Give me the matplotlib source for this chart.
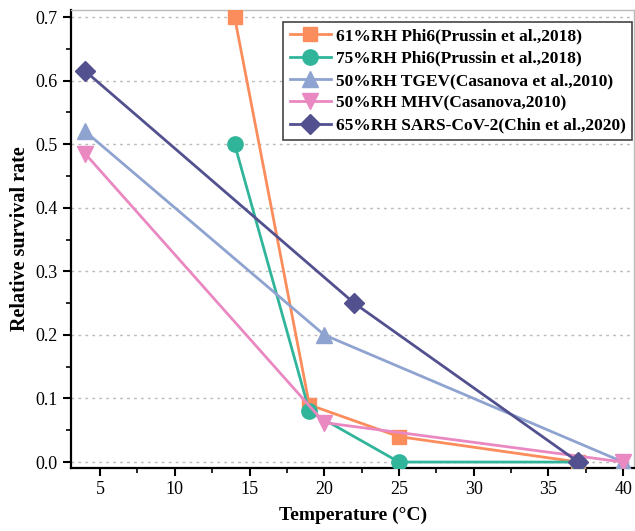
import matplotlib.pyplot as plt
from matplotlib.ticker import MultipleLocator

plt.rcParams['font.family'] = ['Liberation Serif', 'DejaVu Serif']

# data
phi6_61_x = [14, 19, 25, 37]
phi6_61_y = [0.70, 0.09, 0.04, 0.0]
phi6_75_x = [14, 19, 25, 37]
phi6_75_y = [0.50, 0.08, 0.0, 0.0]
tgev_x = [4, 20, 40]
tgev_y = [0.52, 0.20, 0.0]
mhv_x = [4, 20, 40]
mhv_y = [0.485, 0.062, 0.0]
sars_x = [4, 22, 37]
sars_y = [0.615, 0.25, 0.0]

labels = ['61%RH Phi6(Prussin et al.,2018)',
          '75%RH Phi6(Prussin et al.,2018)',
          '50%RH TGEV(Casanova et al.,2010)',
          '50%RH MHV(Casanova,2010)',
          '65%RH SARS-CoV-2(Chin et al.,2020)']

fig = plt.figure(figsize=(6.35, 5.31), dpi=100)
ax = fig.add_axes([0.112, 0.1186, 0.887, 0.8625])

ax.plot(phi6_61_x, phi6_61_y, color='#fb8d5d', marker='s', ms=10, lw=2, label=labels[0], zorder=3)
ax.plot(phi6_75_x, phi6_75_y, color='#30b59b', marker='o', ms=11, lw=2, label=labels[1], zorder=3)
ax.plot(tgev_x, tgev_y, color='#8fa3d0', marker='^', ms=11, lw=2, label=labels[2], zorder=3)
ax.plot(mhv_x, mhv_y, color='#ea88c2', marker='v', ms=11, lw=2, label=labels[3], zorder=3)
ax.plot(sars_x, sars_y, color='#52508f', marker='D', ms=10, lw=2, label=labels[4], zorder=4)

ax.set_xlim(3.06, 40.75)
ax.set_ylim(-0.0094, 0.711)
ax.xaxis.set_major_locator(MultipleLocator(5))
ax.xaxis.set_minor_locator(MultipleLocator(2.5))
ax.yaxis.set_major_locator(MultipleLocator(0.1))
ax.yaxis.set_minor_locator(MultipleLocator(0.05))
ax.yaxis.set_major_formatter(plt.FormatStrFormatter('%.1f'))

ax.grid(axis='y', linestyle=(0, (2, 3)), color='#bbbbbb', lw=1)
ax.set_axisbelow(True)

for s in ['left', 'bottom']:
    ax.spines[s].set_linewidth(1.6)
for s in ['top', 'right']:
    ax.spines[s].set_color('#bbbbbb')
    ax.spines[s].set_linewidth(1)

ax.tick_params(which='major', direction='out', length=6, width=1.5, labelsize=13)
ax.tick_params(which='minor', direction='out', length=3.5, width=1.2)

ax.set_xlabel('Temperature (\u00b0C)', fontsize=14, fontweight='bold', labelpad=6)
ax.set_ylabel('Relative survival rate', fontsize=14.5, fontweight='bold', labelpad=4)

leg = ax.legend(loc='upper right', bbox_to_anchor=(0.9964, 0.9738), borderaxespad=0,
                fancybox=False, edgecolor='#444444', framealpha=1, handlelength=2.4,
                prop={'weight': 'bold', 'size': 12.5}, borderpad=0.35,
                labelspacing=0.36, handletextpad=0.3)
leg.get_frame().set_linewidth(1.2)

fig.savefig('out.png', dpi=100)
